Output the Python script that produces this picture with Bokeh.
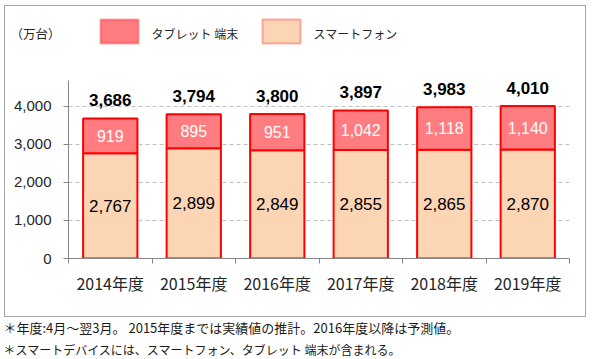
from bokeh.plotting import figure
from bokeh.layouts import column
from bokeh.models import (ColumnDataSource, Range1d, Label, BoxAnnotation,
                          FixedTicker, NumeralTickFormatter, LinearAxis)
from bokeh.core.properties import value
from bokeh.embed import file_html
from bokeh.resources import INLINE

years = ["2014年度", "2015年度", "2016年度", "2017年度", "2018年度", "2019年度"]
smartphone = [2767, 2899, 2849, 2855, 2865, 2870]
tablet = [919, 895, 951, 1042, 1118, 1140]
totals = [3686, 3794, 3800, 3897, 3983, 4010]
y_ticks = [0, 1000, 2000, 3000, 4000]

unit_label = "（万台）"
legend_names = ["タブレット 端末", "スマートフォン"]
footnotes = ["＊年度:4月～翌3月。 2015年度までは実績値の推計。2016年度以降は予測値。",
             "＊スマートデバイスには、スマートフォン、タブレット 端末が含まれる。"]

TAB = "#FF7C80"
SMA = "#FCD5B5"
RED = "#FF0000"
GRAY = "#A6A6A6"
JP = "Noto Sans CJK JP"
NUM = "Liberation Sans"
TXT = "#262626"

n = len(years)
xc = [i + 0.5 for i in range(n)]
src = ColumnDataSource(dict(
    x=xc, smartphone=smartphone, tablet=tablet, total=totals,
    smid=[s / 2 for s in smartphone],
    tmid=[s + t / 2 for s, t in zip(smartphone, tablet)],
    slab=[f"{v:,}" for v in smartphone],
    tlab=[f"{v:,}" for v in tablet],
    totlab=[f"{v:,}" for v in totals],
))

def bare(fig):
    fig.outline_line_color = None
    fig.min_border = 0
    fig.xgrid.grid_line_color = None
    fig.ygrid.grid_line_color = None
    fig.frame_align = False
    return fig

# ---- legend strip (inside border) : data coords == page pixels
top = bare(figure(width=580, height=50, x_range=Range1d(5, 585), y_range=Range1d(56, 6),
                  x_axis_location=None, y_axis_location=None,
                  output_backend="svg", toolbar_location=None))
top.add_layout(Label(x=10, y=33, text=unit_label, text_font=JP, text_font_size="12.5px",
                     text_baseline="middle", text_color=TXT))
for (l, r), name, col in zip([(100, 138), (262, 300)], legend_names, [TAB, SMA]):
    top.add_layout(BoxAnnotation(left=l, right=r, top=19, bottom=43, fill_color=col,
                                 fill_alpha=1, line_color=RED, line_width=2))
    top.add_layout(Label(x=r + 13, y=33, text=name, text_font=JP, text_font_size="12px",
                         text_baseline="middle", text_color=TXT))

# ---- main chart
p = figure(width=580, height=260, x_range=Range1d(0, n), y_range=Range1d(0, 4684),
           output_backend="svg", toolbar_location=None, x_axis_location=None,
           min_border_left=63, min_border_right=16, min_border_top=24, min_border_bottom=58)
p.frame_align = False
p.outline_line_color = None
p.xgrid.grid_line_color = None
p.ygrid.grid_line_color = "#BFBFBF"
p.ygrid.grid_line_dash = "4 3"
p.ygrid.ticker = FixedTicker(ticks=y_ticks[1:])

p.vbar_stack(["smartphone", "tablet"], x="x", width=0.65, source=src,
             fill_color=[SMA, TAB], line_color=RED, line_width=2)

p.text(x="x", y="smid", text="slab", source=src, text_align="center",
       text_baseline="middle", text_font=value(NUM), text_font_size="17px",
       text_color="#000000")
p.text(x="x", y="tmid", text="tlab", source=src, text_align="center",
       text_baseline="middle", text_font=value(NUM), text_font_size="16px",
       text_color="#FFFFFF")
p.text(x="x", y="total", text="totlab", source=src, text_align="center",
       text_baseline="bottom", y_offset=-12, text_font=value(NUM),
       text_font_size="17px", text_font_style="bold", text_color="#000000")

ax = p.yaxis[0]
ax.ticker = FixedTicker(ticks=y_ticks)
ax.formatter = NumeralTickFormatter(format="0,0")
ax.axis_line_color = "#868686"
ax.major_tick_line_color = "#868686"
ax.major_tick_out = 5
ax.major_tick_in = 0
ax.minor_tick_line_color = None
ax.major_label_standoff = 12
ax.major_label_text_font = NUM
ax.major_label_text_font_size = "15px"
ax.major_label_text_color = TXT

# category axis: labels at centres, small ticks at the category boundaries
cat_axis = LinearAxis(ticker=FixedTicker(ticks=xc, minor_ticks=list(range(n + 1))),
                      major_label_overrides={x: y for x, y in zip(xc, years)},
                      axis_line_color="#868686", major_tick_line_color=None,
                      major_tick_out=0, major_tick_in=0,
                      minor_tick_line_color="#868686", minor_tick_out=5, minor_tick_in=0,
                      major_label_standoff=7, major_label_text_font=JP,
                      major_label_text_font_size="16px", major_label_text_color=TXT)
p.add_layout(cat_axis, "below")

boxed = column(top, p, styles={"border": "1px solid " + GRAY, "margin-left": "4px",
                               "margin-top": "5px"})

# ---- footnotes
foot = bare(figure(width=593, height=41, x_range=Range1d(0, 593), y_range=Range1d(359, 318),
                   x_axis_location=None, y_axis_location=None,
                   output_backend="svg", toolbar_location=None))
for y, t, fs in zip([328, 350], footnotes, ["13px", "12px"]):
    foot.add_layout(Label(x=3, y=y, text=t, text_font=JP, text_font_size=fs,
                          text_baseline="middle", text_color="#1a1a1a"))

page = column(boxed, foot)
open("out.html", "w").write(file_html(page, INLINE))
